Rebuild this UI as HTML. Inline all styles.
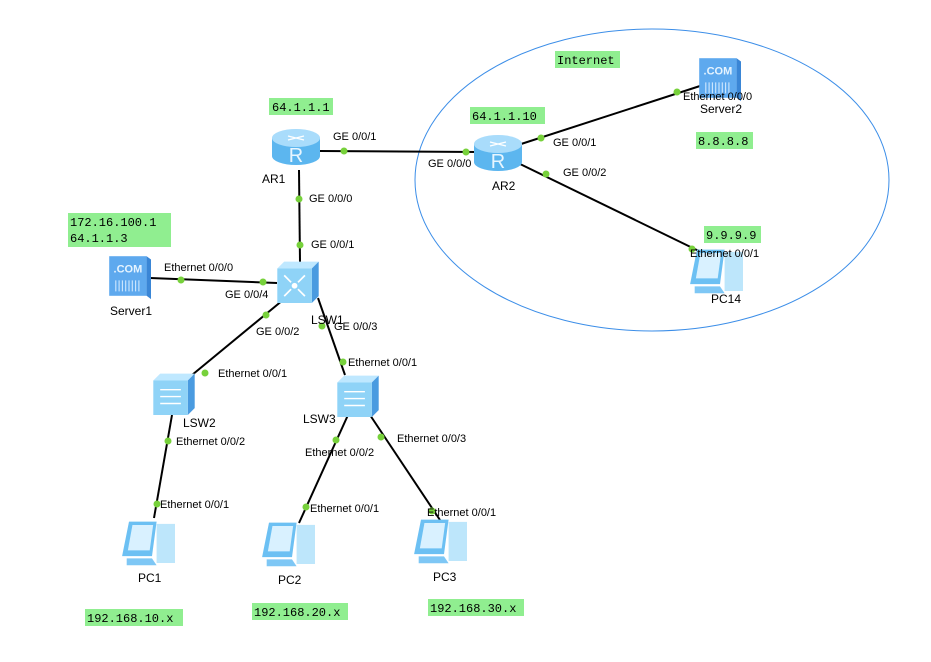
<!DOCTYPE html>
<html><head><meta charset="utf-8"><style>
html,body{margin:0;padding:0;background:#fff;}
svg{display:block;}
.l{font-family:"Liberation Sans",sans-serif;font-size:11px;fill:#000;}
.n{font-family:"Liberation Sans",sans-serif;font-size:12px;fill:#000;}
.m{font-family:"Liberation Mono",monospace;font-size:12px;fill:#000;}
.g{fill:#90ee90;}
</style></head><body>
<svg width="931" height="662" viewBox="0 0 931 662" xmlns="http://www.w3.org/2000/svg">
<defs>
<g id="router">
<path d="M-24,-10 v18 a24,9 0 0 0 48,0 v-18 z" fill="#5cb6ef"/>
<ellipse cx="0" cy="-10" rx="24" ry="9" fill="#a9dcfb"/>
<text x="0" y="14" text-anchor="middle" font-family="Liberation Sans,sans-serif" font-size="20" fill="#e8f6ff">R</text>
<path d="M-8,-12 l16,4 M-8,-8 l16,-4" stroke="#fff" stroke-width="1.2"/>
</g>
<g id="sw">
<path d="M-18,-10 l6,-6 h30 l-6,6 z" fill="#bfe8ff"/>
<path d="M12,-10 l6,-6 v30 l-6,6 z" fill="#4a9be0"/>
<rect x="-18" y="-10" width="30" height="30" fill="#8fd3f7"/>
<path d="M-12,-2 h18 M-12,4 h18 M-12,10 h18" stroke="#fff" stroke-width="1.2"/>
</g>
<g id="core">
<path d="M-18,-10 l6,-6 h30 l-6,6 z" fill="#bfe8ff"/>
<path d="M12,-10 l6,-6 v30 l-6,6 z" fill="#4a9be0"/>
<rect x="-18" y="-10" width="30" height="30" fill="#8fd3f7"/>
<circle cx="-3" cy="5" r="2.5" fill="#fff"/>
<path d="M-12,-4 l6,6 M6,-4 l-6,6 M-12,14 l6,-6 M6,14 l-6,-6" stroke="#fff" stroke-width="1.5"/>
</g>
<g id="server">
<rect x="-18" y="-18" width="34" height="36" fill="#5ea9ee"/>
<path d="M16,-18 l4,3 v36 l-4,-3z" fill="#3a86d6"/>
<text x="-1" y="-3" text-anchor="middle" font-family="Liberation Sans,sans-serif" font-weight="bold" font-size="10" fill="#e6f4ff">.COM</text>
<path d="M-12,4 v10 M-9,4 v10 M-6,4 v10 M-3,4 v10 M0,4 v10 M3,4 v10 M6,4 v10 M9,4 v10" stroke="#cfe8ff" stroke-width="1"/>
</g>
<g id="pc">
<rect x="4" y="-14" width="16" height="34" fill="#bde6fb"/>
<path d="M-20,-16 h24 l-4,30 h-26 z" fill="#6cc0f3"/>
<path d="M-17,-13 h18 l-3,22 h-19 z" fill="#d9f1ff"/>
<path d="M-22,16 h22 l4,6 h-26 z" fill="#7ec7f5"/>
</g>
</defs>
<ellipse cx="652" cy="180" rx="237" ry="151" fill="none" stroke="#3c8ee8" stroke-width="1"/>
<g stroke="#000" stroke-width="2">
<line x1="320" y1="151" x2="478" y2="152"/>
<line x1="299" y1="170" x2="300" y2="262"/>
<line x1="150" y1="278" x2="277" y2="283"/>
<line x1="283" y1="300" x2="192" y2="375"/>
<line x1="318" y1="298" x2="345" y2="375"/>
<line x1="172" y1="415" x2="154" y2="518"/>
<line x1="348" y1="415" x2="299" y2="523"/>
<line x1="370" y1="415" x2="440" y2="520"/>
<line x1="518" y1="145" x2="700" y2="86"/>
<line x1="518" y1="163" x2="705" y2="254"/>
</g>
<g fill="#77d13b">
<circle cx="344" cy="151" r="3.5"/><circle cx="466" cy="152" r="3.5"/>
<circle cx="299" cy="199" r="3.5"/><circle cx="300" cy="245" r="3.5"/>
<circle cx="181" cy="280" r="3.5"/><circle cx="263" cy="282" r="3.5"/>
<circle cx="266" cy="315" r="3.5"/><circle cx="205" cy="373" r="3.5"/>
<circle cx="322" cy="326" r="3.5"/><circle cx="343" cy="362" r="3.5"/>
<circle cx="168" cy="441" r="3.5"/><circle cx="157" cy="504" r="3.5"/>
<circle cx="336" cy="440" r="3.5"/><circle cx="306" cy="507" r="3.5"/>
<circle cx="381" cy="437" r="3.5"/><circle cx="432" cy="511" r="3.5"/>
<circle cx="541" cy="138" r="3.5"/><circle cx="677" cy="92" r="3.5"/>
<circle cx="546" cy="174" r="3.5"/><circle cx="692" cy="249" r="3.5"/>
</g>
<use href="#router" x="296" y="148"/>
<use href="#router" x="498" y="154"/>
<g transform="translate(298,280) scale(1.15)"><use href="#core"/></g>
<g transform="translate(174,392) scale(1.15)"><use href="#sw"/></g>
<g transform="translate(358,394) scale(1.15)"><use href="#sw"/></g>
<g transform="translate(129,276) scale(1.1)"><use href="#server"/></g>
<g transform="translate(719,78) scale(1.1)"><use href="#server"/></g>
<g transform="translate(152,540) scale(1.15)"><use href="#pc"/></g>
<g transform="translate(292,541) scale(1.15)"><use href="#pc"/></g>
<g transform="translate(444,538) scale(1.15)"><use href="#pc"/></g>
<g transform="translate(720,268) scale(1.15)"><use href="#pc"/></g>
<g class="n">
<text x="262" y="183">AR1</text>
<text x="492" y="190">AR2</text>
<text x="311" y="324">LSW1</text>
<text x="183" y="427">LSW2</text>
<text x="303" y="423">LSW3</text>
<text x="110" y="315">Server1</text>
<text x="700" y="113">Server2</text>
<text x="138" y="582">PC1</text>
<text x="278" y="584">PC2</text>
<text x="433" y="581">PC3</text>
<text x="711" y="303">PC14</text>
</g>
<g class="l">
<text x="333" y="140">GE 0/0/1</text>
<text x="428" y="167">GE 0/0/0</text>
<text x="309" y="202">GE 0/0/0</text>
<text x="311" y="248">GE 0/0/1</text>
<text x="164" y="271">Ethernet 0/0/0</text>
<text x="225" y="298">GE 0/0/4</text>
<text x="256" y="335">GE 0/0/2</text>
<text x="334" y="330">GE 0/0/3</text>
<text x="218" y="377">Ethernet 0/0/1</text>
<text x="348" y="366">Ethernet 0/0/1</text>
<text x="176" y="445">Ethernet 0/0/2</text>
<text x="305" y="456">Ethernet 0/0/2</text>
<text x="397" y="442">Ethernet 0/0/3</text>
<text x="160" y="508">Ethernet 0/0/1</text>
<text x="310" y="512">Ethernet 0/0/1</text>
<text x="427" y="516">Ethernet 0/0/1</text>
<text x="553" y="146">GE 0/0/1</text>
<text x="563" y="176">GE 0/0/2</text>
<text x="683" y="100">Ethernet 0/0/0</text>
<text x="690" y="257">Ethernet 0/0/1</text>
</g>
<rect class="g" x="269" y="98" width="64" height="17"/><text class="m" x="272" y="111">64.1.1.1</text>
<rect class="g" x="470" y="107" width="75" height="17"/><text class="m" x="472" y="120">64.1.1.10</text>
<rect class="g" x="555" y="51" width="65" height="17"/><text class="m" x="557" y="64">Internet</text>
<rect class="g" x="696" y="132" width="57" height="17"/><text class="m" x="698" y="145">8.8.8.8</text>
<rect class="g" x="704" y="226" width="57" height="17"/><text class="m" x="706" y="239">9.9.9.9</text>
<rect class="g" x="68" y="213" width="103" height="34"/><text class="m" x="70" y="226">172.16.100.1</text><text class="m" x="70" y="242">64.1.1.3</text>
<rect class="g" x="85" y="609" width="98" height="17"/><text class="m" x="87" y="622">192.168.10.x</text>
<rect class="g" x="252" y="603" width="96" height="17"/><text class="m" x="254" y="616">192.168.20.x</text>
<rect class="g" x="428" y="599" width="96" height="17"/><text class="m" x="430" y="612">192.168.30.x</text>
</svg>
</body></html>
